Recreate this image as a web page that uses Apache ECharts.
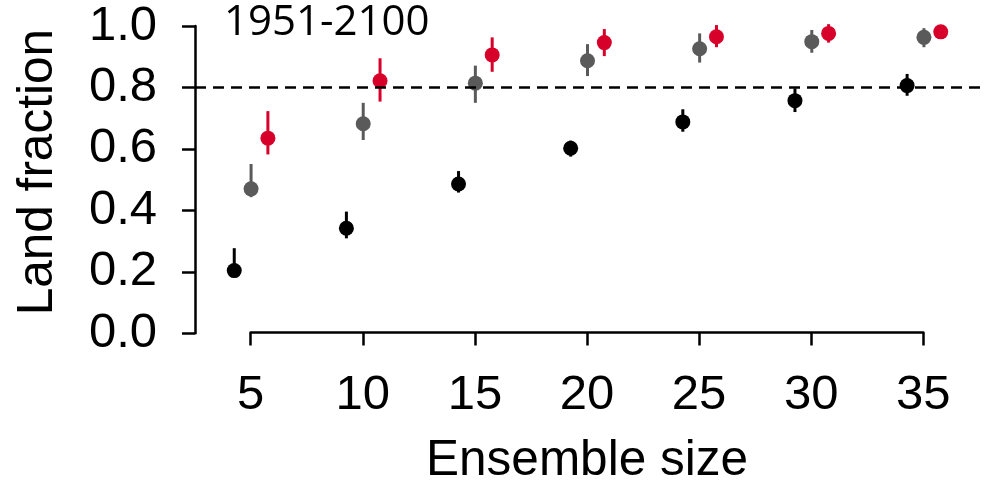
<!DOCTYPE html>
<html>
<head>
<meta charset="utf-8">
<script src="https://cdn.jsdelivr.net/npm/echarts@6/dist/echarts.min.js"></script>
<style>
  html, body { margin: 0; padding: 0; background: #fff; }
  #chart { width: 999px; height: 484px; }
</style>
</head>
<body>
<div id="chart"></div>
<script>
// ensemble sizes on the x axis
const sizes = [5, 10, 15, 20, 25, 30, 35]
const xTicks = [5, 10, 15, 20, 25, 30, 35]
const yTicks = [0, 0.2, 0.4, 0.6, 0.8, 1.0]
const threshold = 0.8

// black group (drawn left of each size)
const blackMid = [0.204, 0.342, 0.486, 0.602, 0.688, 0.757, 0.806]
const blackHi = [0.277, 0.396, 0.528, 0.627, 0.729, 0.797, 0.844]
const blackLo = [0.183, 0.309, 0.458, 0.575, 0.656, 0.720, 0.773]

// gray group (on each size)
const grayMid = [0.470, 0.682, 0.814, 0.887, 0.926, 0.949, 0.963]
const grayHi = [0.551, 0.750, 0.871, 0.941, 0.976, 0.987, 0.993]
const grayLo = [0.443, 0.629, 0.750, 0.837, 0.881, 0.913, 0.931]

// red group (drawn right of each size)
const redMid = [0.635, 0.822, 0.906, 0.946, 0.965, 0.976, 0.981]
const redHi = [0.723, 0.895, 0.963, 0.990, 1.003, 1.006, 0.997]
const redLo = [0.582, 0.754, 0.851, 0.902, 0.931, 0.946, 0.971]

const FONT = 'Liberation Sans, Arial, sans-serif'
const chart = echarts.init(document.getElementById('chart'))

const errorBars = (offset, lo, hi, color) => ({
  type: 'custom',
  xAxisIndex: 0,
  yAxisIndex: 0,
  silent: true,
  data: sizes.map((s, i) => [s + offset, lo[i], hi[i]]),
  renderItem: function (params, api) {
    const p1 = api.coord([api.value(0), api.value(1)])
    const p2 = api.coord([api.value(0), api.value(2)])
    return {
      type: 'line',
      shape: { x1: p1[0], y1: p1[1], x2: p2[0], y2: p2[1] },
      style: { stroke: color, lineWidth: 3 }
    }
  },
  z: 2
})

const points = (offset, mid, color) => ({
  type: 'scatter',
  xAxisIndex: 0,
  yAxisIndex: 0,
  symbol: 'circle',
  symbolSize: 15,
  itemStyle: { color: color, opacity: 1 },
  data: sizes.map((s, i) => [s + offset, mid[i]]),
  z: 3
})

const option = {
  animation: false,
  title: {
    text: '1951-2100',
    left: 219,
    top: -3,
    textStyle: { fontFamily: 'Open Sans', fontWeight: 'normal', fontSize: 42, color: '#000' }
  },
  grid: [
    { left: 195, top: 26, width: 785, height: 307.3 },
    { left: 250.7, top: 332.3, width: 672.6, height: 1 }
  ],
  xAxis: [
    { type: 'value', gridIndex: 0, min: 2.5, max: 37.5, show: false },
    {
      type: 'value',
      gridIndex: 1,
      min: 5,
      max: 35,
      interval: 5,
      position: 'bottom',
      name: 'Ensemble size',
      nameLocation: 'middle',
      nameGap: 104,
      nameTextStyle: { fontFamily: FONT, fontSize: 49.5, color: '#000' },
      axisLine: { show: true, lineStyle: { color: '#000', width: 2.5 } },
      axisTick: { show: true, inside: false, length: 13, lineStyle: { color: '#000', width: 2.5 } },
      axisLabel: {
        margin: 38,
        fontFamily: FONT,
        fontSize: 49,
        color: '#000',
        formatter: v => (xTicks.includes(v) ? String(v) : '')
      },
      splitLine: { show: false }
    }
  ],
  yAxis: [
    {
      type: 'value',
      gridIndex: 0,
      min: 0,
      max: 1,
      interval: 0.2,
      name: 'Land fraction',
      nameLocation: 'middle',
      nameGap: 132,
      nameTextStyle: { fontFamily: FONT, fontSize: 49.5, color: '#000', padding: [0, 0, 0, 15] },
      axisLine: { show: true, lineStyle: { color: '#000', width: 2.5 } },
      axisTick: { show: true, inside: false, length: 13, lineStyle: { color: '#000', width: 2.5 } },
      axisLabel: {
        margin: 38,
        fontFamily: FONT,
        fontSize: 49,
        color: '#000',
        formatter: v => {
          const t = yTicks.find(k => Math.abs(k - v) < 1e-6)
          return t === undefined ? '' : t.toFixed(1)
        }
      },
      splitLine: { show: false }
    },
    { type: 'value', gridIndex: 1, show: false }
  ],
  series: [
    errorBars(-0.75, blackLo, blackHi, '#000000'),
    errorBars(0, grayLo, grayHi, '#5a5a5a'),
    errorBars(0.75, redLo, redHi, '#d7002b'),
    Object.assign(points(-0.75, blackMid, '#000000'), {
      markLine: {
        silent: true,
        symbol: 'none',
        label: { show: false },
        lineStyle: { color: '#000', width: 2.5, type: [11, 7] },
        data: [{ yAxis: threshold }]
      }
    }),
    points(0, grayMid, '#5a5a5a'),
    points(0.75, redMid, '#d7002b')
  ]
}

chart.setOption(option)
</script>
</body>
</html>
